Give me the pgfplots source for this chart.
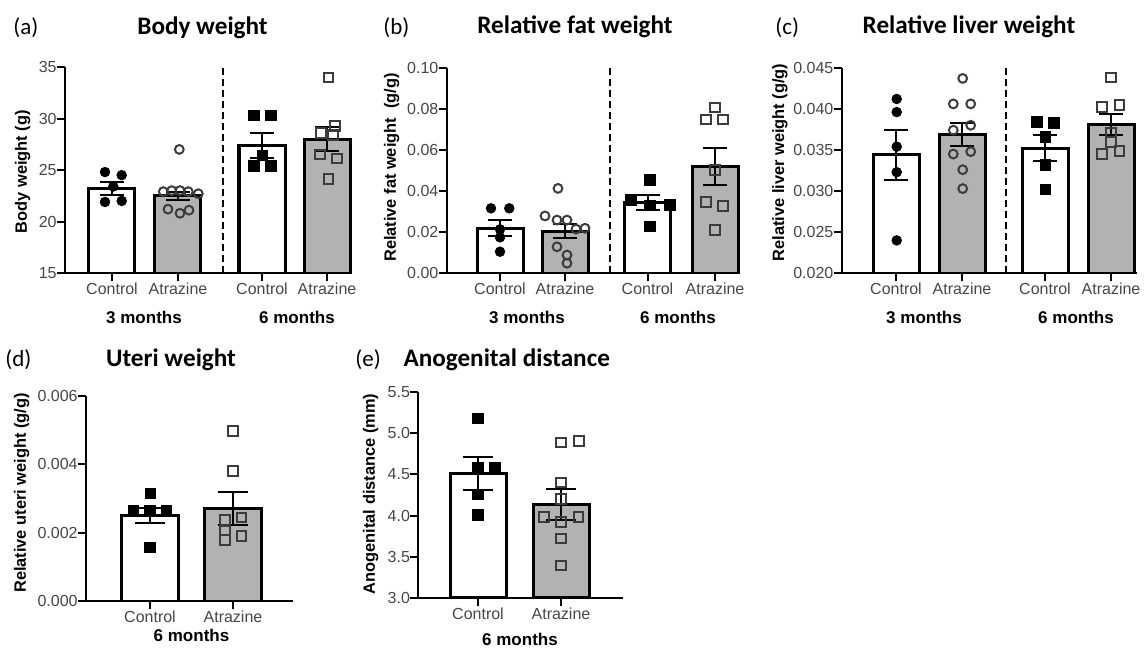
\documentclass[border=0pt]{standalone}
\usepackage{fontspec}
\setmainfont{Liberation Sans}
\newfontfamily\titlefont{Carlito}
\usepackage{pgfplots}
\pgfplotsset{compat=1.18}
\definecolor{barfill}{RGB}{178,178,178}
\definecolor{tickc}{RGB}{70,70,70}
\definecolor{openm}{RGB}{60,60,60}
\pgfplotsset{
  panel/.style={
    scale only axis, anchor=south west,
    axis x line*=bottom, axis y line*=left,
    axis line style={line width=1pt, black},
    tick align=outside, major tick length=4pt,
    xtick style={line width=1pt, black},
    ytick style={line width=1pt, black},
    ticklabel style={font=\fontsize{8}{9}\selectfont, text=tickc},
    xticklabel style={anchor=north, inner sep=0pt, yshift=-0.8pt},
    yticklabel style={anchor=east, inner sep=0pt},
    scaled y ticks=false,
    /pgf/number format/assume math mode=true,
    enlargelimits=false,
  },
  prec/.style={/pgf/number format/fixed, /pgf/number format/fixed zerofill, /pgf/number format/precision=#1},
  cbar/.style={ybar, bar width=#1, bar shift=0pt, draw=black, line width=1.5pt, fill=white, forget plot},
  abar/.style={ybar, bar width=#1, bar shift=0pt, draw=black, line width=1.5pt, fill=barfill, forget plot},
  eb/.style={draw=none, mark=none, forget plot,
    error bars/.cd, y dir=both, y explicit,
    error bar style={draw=black, line width=1pt, solid},
    error mark options={rotate=90, mark size=#1, line width=1pt, draw=black}},
  fc/.style={only marks, mark=*, mark size=2.4pt, mark options={fill=black, draw=black}},
  oc/.style={only marks, mark=o, mark size=2.2pt, mark options={draw=openm, line width=1pt}},
  fs/.style={only marks, mark=square*, mark size=2.6pt, mark options={fill=black, draw=black}},
  os/.style={only marks, mark=square, mark size=2.4pt, mark options={draw=openm, line width=1pt}},
}
\newcommand{\ttl}{\titlefont\bfseries\fontsize{12.6}{14}\selectfont}
\newcommand{\lett}{\titlefont\fontsize{11.5}{14}\selectfont}
\newcommand{\ylab}{\bfseries\fontsize{8.2}{10}\selectfont}
\newcommand{\mon}{\bfseries\fontsize{8.5}{10}\selectfont}
\begin{document}
\begin{tikzpicture}
\begin{scope}[x=0.5pt,y=-0.5pt]
\useasboundingbox (0,0) rectangle (1147,655);
\end{scope}

% (a) Body weight
\begin{axis}[panel, at={(32.5pt,-136.5pt)}, width=143.5pt, height=103pt,
  xmin=65, xmax=352, ymin=15, ymax=35, ytick={15,20,25,30,35},
  xtick={112,178,262,327}, xticklabels={Control,Atrazine,Control,Atrazine}]
\addplot[cbar=46] coordinates {(112,23.2)};
\addplot[abar=46] coordinates {(178,22.5)};
\addplot[cbar=46] coordinates {(262,27.4)};
\addplot[abar=46] coordinates {(327,28.0)};
\addplot[fc] coordinates {(105,24.8) (121.7,24.5) (113.3,23.4) (105,21.9) (121.7,22.0)};
\addplot[oc] coordinates {(179.3,27.0) (163.3,22.9) (171.7,23.0) (180,23.0) (188.3,22.9) (198.3,22.7) (168,21.2) (180,20.8) (189,21.1)};
\addplot[fs] coordinates {(254,30.3) (270.7,30.3) (262.3,26.4) (254,25.4) (270.7,25.4)};
\addplot[os] coordinates {(328.3,34.0) (335,29.3) (320.7,28.6) (333,28.4) (320,26.5) (336.7,26.1) (328.3,24.1)};
\addplot[eb=6pt] coordinates {(112,23.2) +- (0,0.6) (178,22.5) +- (0,0.4) (262,27.4) +- (0,1.2) (327,28.0) +- (0,1.2)};
\draw[black, line width=0.9pt, dash pattern=on 3.5pt off 2pt] (axis cs:223,15) -- (axis cs:223,35);
\end{axis}

% (b) Relative fat weight
\begin{axis}[panel, at={(223.35pt,-136.65pt)}, width=146.65pt, height=102.8pt,
  xmin=446.7, xmax=740, ymin=0, ymax=0.1, ytick={0,0.02,0.04,0.06,0.08,0.1},
  yticklabel style={prec=2},
  xtick={500,565,647.5,715}, xticklabels={Control,Atrazine,Control,Atrazine}]
\addplot[cbar=46] coordinates {(500,0.022)};
\addplot[abar=46] coordinates {(565,0.0205)};
\addplot[cbar=46] coordinates {(647.5,0.0345)};
\addplot[abar=46] coordinates {(715,0.052)};
\addplot[fc] coordinates {(491,0.0316) (509.3,0.0316) (500,0.0214) (500,0.0175) (500,0.0105)};
\addplot[oc] coordinates {(558,0.0413) (545,0.0279) (557,0.0259) (567,0.0259) (585,0.0219) (576,0.0215) (557,0.0129) (567,0.0089) (567,0.0049)};
\addplot[fs] coordinates {(650,0.0454) (631,0.0357) (670,0.0332) (650,0.033) (650,0.0227)};
\addplot[os] coordinates {(715,0.0807) (706,0.0749) (723,0.0749) (715,0.0502) (706,0.0348) (723,0.0327) (715,0.0211)};
\addplot[eb=6pt] coordinates {(500,0.022) +- (0,0.004) (565,0.0205) +- (0,0.0035) (647.5,0.0345) +- (0,0.0035) (715,0.052) +- (0,0.009)};
\draw[black, line width=0.9pt, dash pattern=on 3.5pt off 2pt] (axis cs:610,0) -- (axis cs:610,0.1);
\end{axis}

% (c) Relative liver weight
\begin{axis}[panel, at={(420.85pt,-136.65pt)}, width=147.65pt, height=102.8pt,
  xmin=841.7, xmax=1137, ymin=0.02, ymax=0.045, ytick={0.02,0.025,0.03,0.035,0.04,0.045},
  yticklabel style={prec=3},
  xtick={896,962,1045,1111}, xticklabels={Control,Atrazine,Control,Atrazine}]
\addplot[cbar=46] coordinates {(896,0.0344)};
\addplot[abar=46] coordinates {(962,0.0369)};
\addplot[cbar=46] coordinates {(1045,0.0352)};
\addplot[abar=46] coordinates {(1111,0.0381)};
\addplot[fc] coordinates {(896.7,0.0412) (896.7,0.0396) (896.7,0.0354) (896.7,0.0323) (896.7,0.0240)};
\addplot[oc] coordinates {(962.7,0.0437) (953.3,0.0406) (970.7,0.0406) (970.7,0.038) (953.3,0.0374) (953.3,0.0345) (970.7,0.0348) (962.7,0.0326) (962.7,0.0303)};
\addplot[fs] coordinates {(1036.7,0.0384) (1054,0.0383) (1045.3,0.0366) (1045.3,0.0332) (1045.3,0.0302)};
\addplot[os] coordinates {(1110.7,0.0438) (1101.7,0.0402) (1119.3,0.0405) (1110.7,0.0371) (1110.7,0.0360) (1101.7,0.0345) (1119.3,0.0349)};
\addplot[eb=6pt] coordinates {(896,0.0344) +- (0,0.003) (962,0.0369) +- (0,0.0014) (1045,0.0352) +- (0,0.0016) (1111,0.0381) +- (0,0.0013)};
\draw[black, line width=0.9pt, dash pattern=on 3.5pt off 2pt] (axis cs:1006,0.02) -- (axis cs:1006,0.045);
\end{axis}

% (d) Uteri weight
\begin{axis}[panel, at={(43pt,-300.5pt)}, width=103.5pt, height=102.5pt,
  xmin=86, xmax=293, ymin=0, ymax=0.006, ytick={0,0.002,0.004,0.006},
  yticklabel style={prec=3},
  xtick={150,233}, xticklabels={Control,Atrazine}]
\addplot[cbar=57] coordinates {(150,0.00249)};
\addplot[abar=57] coordinates {(233,0.00271)};
\addplot[fs] coordinates {(150.7,0.00315) (133.3,0.00264) (150,0.00264) (166.7,0.00264) (150,0.00157)};
\addplot[os] coordinates {(233.3,0.00498) (233.3,0.00381) (225,0.00237) (241.7,0.00245) (225,0.00206) (241.7,0.0019) (225,0.00179)};
\addplot[eb=7.5pt] coordinates {(150,0.00249) +- (0,0.00022) (233,0.00271) +- (0,0.00049)};
\end{axis}

% (e) Anogenital distance
\begin{axis}[panel, at={(209.15pt,-298.85pt)}, width=102.35pt, height=102.7pt,
  xmin=418.3, xmax=623, ymin=3, ymax=5.5, ytick={3,3.5,4,4.5,5,5.5},
  yticklabel style={prec=1},
  xtick={478,561}, xticklabels={Control,Atrazine}]
\addplot[cbar=56] coordinates {(478,4.51)};
\addplot[abar=56] coordinates {(561,4.13)};
\addplot[fs] coordinates {(478,5.18) (478,4.58) (495,4.58) (478,4.26) (478,4.01)};
\addplot[os] coordinates {(560.7,4.89) (579,4.91) (561,4.40) (561,4.20) (544,3.985) (578.3,3.985) (561,3.92) (561,3.72) (561,3.39)};
\addplot[eb=7.5pt] coordinates {(478,4.51) +- (0,0.2) (561,4.13) +- (0,0.19)};
\end{axis}

\begin{scope}[x=0.5pt,y=-0.5pt]
% panel letters
\node[anchor=base west, inner sep=0pt] at (13,34) {\lett (a)};
\node[anchor=base west, inner sep=0pt] at (383,34) {\lett (b)};
\node[anchor=base west, inner sep=0pt] at (775,34) {\lett (c)};
\node[anchor=base west, inner sep=0pt] at (5,366.5) {\lett (d)};
\node[anchor=base west, inner sep=0pt] at (355,366.5) {\lett (e)};
% titles
\node[anchor=base, inner sep=0pt] at (202.5,34) {\ttl Body weight};
\node[anchor=base, inner sep=0pt] at (575,33.5) {\ttl Relative fat weight};
\node[anchor=base, inner sep=0pt] at (969,33.5) {\ttl Relative liver weight};
\node[anchor=base, inner sep=0pt] at (171,366.5) {\ttl Uteri weight};
\node[anchor=base, inner sep=0pt] at (506.7,366.5) {\ttl Anogenital distance};
% y labels
\node[rotate=90, inner sep=0pt] at (22.7,171.7) {\ylab Body weight (g)};
\node[rotate=90, inner sep=0pt] at (391.7,167.5) {\ylab Relative fat weight\ \ (g/g)};
\node[rotate=90, inner sep=0pt] at (780,162.5) {\ylab Relative liver weight (g/g)};
\node[rotate=90, inner sep=0pt] at (21.7,493) {\ylab Relative uteri weight (g/g)};
\node[rotate=90, inner sep=0pt] at (370.7,494) {\ylab Anogenital distance (mm)};
% group labels
\node[anchor=base, inner sep=0pt] at (144,323.3) {\mon 3 months};
\node[anchor=base, inner sep=0pt] at (297,323.3) {\mon 6 months};
\node[anchor=base, inner sep=0pt] at (527,323.3) {\mon 3 months};
\node[anchor=base, inner sep=0pt] at (678,323.3) {\mon 6 months};
\node[anchor=base, inner sep=0pt] at (924,323.3) {\mon 3 months};
\node[anchor=base, inner sep=0pt] at (1076,323.3) {\mon 6 months};
\node[anchor=base, inner sep=0pt] at (191.5,641.7) {\mon 6 months};
\node[anchor=base, inner sep=0pt] at (520,645) {\mon 6 months};
\end{scope}
\end{tikzpicture}
\end{document}
